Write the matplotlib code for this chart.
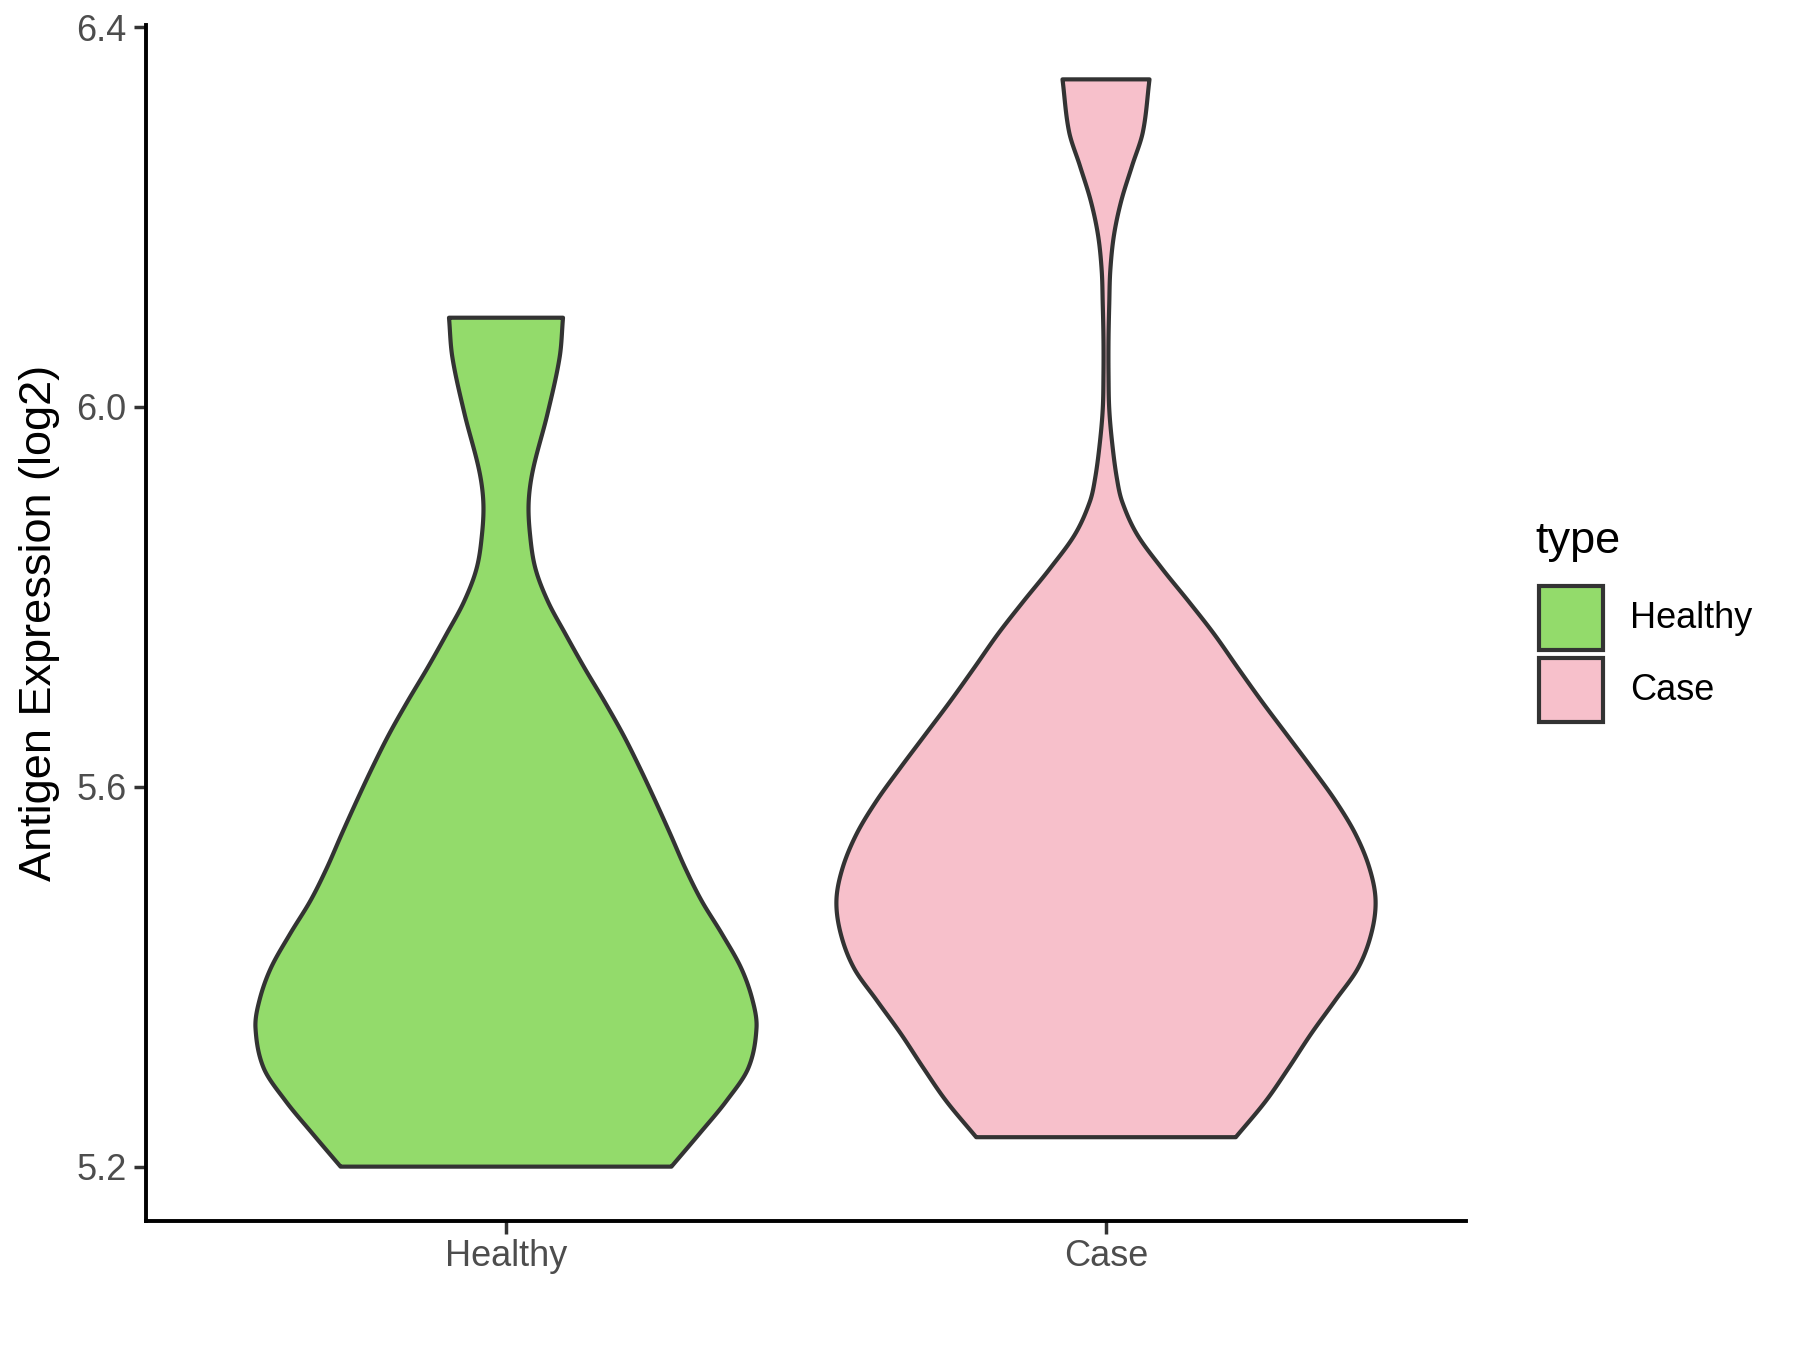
import numpy as np
import matplotlib
matplotlib.use("Agg")
import matplotlib.pyplot as plt
from matplotlib.patches import Rectangle

plt.rcParams['font.family'] = ['Liberation Sans', 'DejaVu Sans']

# ---------------- data ----------------
categories = ["Healthy", "Case"]
colors = ["#93DB6B", "#F7C0CB"]
y_label = "Antigen Expression (log2)"
legend_title = "type"
y_ticks = [5.2, 5.6, 6.0, 6.4]

# violin outlines: expression value and half-width (in x-axis category units)
healthy_y = [6.094, 6.052, 5.993, 5.934, 5.900, 5.866, 5.830, 5.795, 5.761,
             5.725, 5.690, 5.655, 5.620, 5.585, 5.550, 5.514, 5.480, 5.445,
             5.409, 5.375, 5.346, 5.304, 5.269, 5.235, 5.200]
healthy_halfwidth = [0.0950, 0.0893, 0.0692, 0.0450, 0.0378, 0.0400, 0.0490,
                     0.0700, 0.0990, 0.1310, 0.1640, 0.1952, 0.2230, 0.2490,
                     0.2740, 0.2990, 0.3260, 0.3600, 0.3920, 0.4110, 0.4175,
                     0.4040, 0.3672, 0.3228, 0.2757]

case_y = [6.345, 6.290, 6.254, 6.217, 6.181, 6.144, 6.108, 6.071, 6.035, 5.998,
          5.962, 5.925, 5.900, 5.866, 5.830, 5.795, 5.761, 5.725, 5.690, 5.655,
          5.620, 5.585, 5.550, 5.514, 5.480, 5.445, 5.409, 5.375, 5.340, 5.304,
          5.269, 5.231]
case_halfwidth = [0.0725, 0.0616, 0.0435, 0.0254, 0.0133, 0.0072, 0.0054,
                  0.0042, 0.0042, 0.0054, 0.0103, 0.0181, 0.0271, 0.0516,
                  0.0932, 0.1380, 0.1800, 0.2200, 0.2596, 0.3012, 0.3428,
                  0.3827, 0.4160, 0.4393, 0.4493, 0.4420, 0.4200, 0.3820,
                  0.3420, 0.3045, 0.2662, 0.2163]


def hermite_in_y(yv, wv, n=24):
    """C1 cubic Hermite curve through the read points, parametrised by y."""
    y = np.asarray(yv, float)[::-1]
    w = np.asarray(wv, float)[::-1]
    m = np.empty_like(w)
    m[1:-1] = (w[2:] - w[:-2]) / (y[2:] - y[:-2])
    m[0] = (w[1] - w[0]) / (y[1] - y[0])
    m[-1] = (w[-1] - w[-2]) / (y[-1] - y[-2])
    ys, ws = [], []
    t = np.linspace(0, 1, n, endpoint=False)
    for i in range(len(y) - 1):
        h = y[i + 1] - y[i]
        h00 = 2 * t ** 3 - 3 * t ** 2 + 1
        h10 = t ** 3 - 2 * t ** 2 + t
        h01 = -2 * t ** 3 + 3 * t ** 2
        h11 = t ** 3 - t ** 2
        ys.append(y[i] + t * h)
        ws.append(h00 * w[i] + h10 * h * m[i] + h01 * w[i + 1] + h11 * h * m[i + 1])
    ys.append([y[-1]])
    ws.append([w[-1]])
    return np.concatenate(ys), np.concatenate(ws)


W, H = 1800, 1350
fig = plt.figure(figsize=(W / 100, H / 100), dpi=100)
ax_left, ax_right, ax_bottom, ax_top = 146, 1466, 1221, 25
ax = fig.add_axes([ax_left / W, 1 - ax_bottom / H, (ax_right - ax_left) / W,
                   (ax_bottom - ax_top) / H])

outline = "#333333"
for i, (yy, ww) in enumerate([(healthy_y, healthy_halfwidth), (case_y, case_halfwidth)]):
    c = i + 1
    sy, sw = hermite_in_y(yy, ww)
    sw = np.clip(sw, 0.0015, None)
    xs = np.concatenate([c + sw, (c - sw)[::-1]])
    ys = np.concatenate([sy, sy[::-1]])
    ax.fill(xs, ys, facecolor=colors[i], edgecolor=outline, linewidth=3.0,
            joinstyle='round', zorder=2)

all_y = healthy_y + case_y
lo, hi = min(all_y), max(all_y)
rng = hi - lo
ax.set_ylim(lo - 0.05 * rng, hi + 0.05 * rng)
ax.set_xlim(0.4, 2.6)

ax.set_xticks([1, 2])
ax.set_xticklabels(categories)
ax.set_yticks(y_ticks)
ax.set_yticklabels([f"{t:.1f}" for t in y_ticks])
ax.tick_params(axis='both', length=9, width=2.5, color=outline,
               labelsize=26, labelcolor="#4D4D4D")
ax.tick_params(axis='x', pad=4)
ax.tick_params(axis='y', pad=5)
for s in ["top", "right"]:
    ax.spines[s].set_visible(False)
for s in ["left", "bottom"]:
    ax.spines[s].set_linewidth(2.8)
    ax.spines[s].set_color("black")
    ax.spines[s].set_capstyle('projecting')

fig.text(40 / W, 1 - 623 / H, y_label, rotation=90, fontsize=32.5,
         ha='center', va='center', color='black')

# legend drawn in a pixel overlay
ov = fig.add_axes([0, 0, 1, 1])
ov.set_xlim(0, W)
ov.set_ylim(H, 0)
ov.axis('off')
ov.text(1535, 541, legend_title, fontsize=32.5, va='center', ha='left', color='black')
key_x, key_w = 1539, 64
key_tops = [586, 658]
for i, lab in enumerate(categories):
    ov.add_patch(Rectangle((key_x, key_tops[i]), key_w, 64, facecolor=colors[i],
                           edgecolor=outline, linewidth=3.0))
    ov.text(1630, key_tops[i] + 33, lab, fontsize=26, va='center', ha='left',
            color='black')

fig.savefig("out.png", dpi=100)
